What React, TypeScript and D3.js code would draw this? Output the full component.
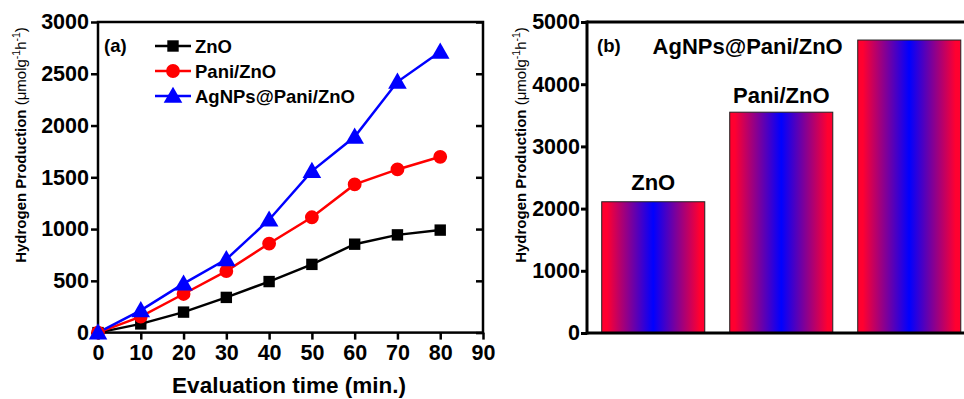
import React, { useRef, useEffect } from 'react';
import * as d3 from 'd3';

// panel (a): hydrogen production vs evaluation time
const times = [0, 10, 20, 30, 40, 50, 60, 70, 80];
const znoValues = [0, 84, 198, 340, 493, 659, 854, 944, 990];
const paniValues = [0, 155, 373, 594, 860, 1114, 1431, 1576, 1698];
const agValues = [0, 215, 473, 708, 1090, 1560, 1891, 2422, 2712];
const seriesNames = ['ZnO', 'Pani/ZnO', 'AgNPs@Pani/ZnO'];
const seriesColors = ['#000000', '#ff0000', '#0000ff'];
const xTicksA = [0, 10, 20, 30, 40, 50, 60, 70, 80, 90];
const yTicksA = [0, 500, 1000, 1500, 2000, 2500, 3000];

// panel (b): hydrogen production rate per catalyst
const barCategories = ['ZnO', 'Pani/ZnO', 'AgNPs@Pani/ZnO'];
const barValues = [2110, 3550, 4710];
const yTicksB = [0, 1000, 2000, 3000, 4000, 5000];

const FONT = '"Liberation Sans", Arial, sans-serif';
const TICK_FONT = 21.5;

function yTitle(g: d3.Selection<SVGGElement, unknown, null, undefined>, x: number, y: number) {
  const t = g
    .append('text')
    .attr('transform', `translate(${x},${y}) rotate(-90)`)
    .attr('text-anchor', 'middle')
    .attr('font-family', FONT)
    .attr('font-size', 15)
    .attr('fill', '#000');
  t.append('tspan').attr('font-weight', 'bold').text('Hydrogen Production ');
  t.append('tspan').text('(\u03bcmolg');
  t.append('tspan').attr('font-size', 10.5).attr('dy', -6).text('-1');
  t.append('tspan').attr('dy', 6).text('h');
  t.append('tspan').attr('font-size', 10.5).attr('dy', -6).text('-1');
  t.append('tspan').attr('dy', 6).text(')');
}

function drawLinePanel(svg: d3.Selection<SVGSVGElement, unknown, null, undefined>) {
  const left = 98;
  const right = 483;
  const top = 22;
  const bottom = 332.6;
  const g = svg.append('g');

  const x = d3.scaleLinear().domain([0, 90]).range([left, right]);
  const y = d3.scaleLinear().domain([0, 3000]).range([bottom, top]);

  // 外框
  g.append('rect')
    .attr('x', left)
    .attr('y', top)
    .attr('width', right - left)
    .attr('height', bottom - top)
    .attr('fill', 'none')
    .attr('stroke', '#000')
    .attr('stroke-width', 2.5);

  // 左侧 y 轴
  const yAxis = g
    .append('g')
    .attr('transform', `translate(${left},0)`)
    .call(d3.axisLeft(y).tickValues(yTicksA).tickSize(7).tickPadding(2).tickFormat(d3.format('d')));
  // 右侧刻度（向内）
  const yAxisR = g
    .append('g')
    .attr('transform', `translate(${right},0)`)
    .call(d3.axisLeft(y).tickValues(yTicksA).tickSize(7).tickFormat(() => ''));
  // x 轴
  const xAxis = g
    .append('g')
    .attr('transform', `translate(0,${bottom})`)
    .call(d3.axisBottom(x).tickValues(xTicksA).tickSize(7).tickPadding(5).tickFormat(d3.format('d')));

  for (const a of [yAxis, yAxisR, xAxis]) {
    a.select('.domain').remove();
    a.selectAll('line').attr('stroke', '#000').attr('stroke-width', 2.5);
    a.selectAll('text')
      .attr('font-family', FONT)
      .attr('font-weight', 'bold')
      .attr('font-size', TICK_FONT)
      .attr('fill', '#000');
  }

  g.append('text')
    .attr('x', 289)
    .attr('y', 393)
    .attr('text-anchor', 'middle')
    .attr('font-family', FONT)
    .attr('font-weight', 'bold')
    .attr('font-size', 22.5)
    .text('Evaluation time (min.)');

  yTitle(g, 26, 145);

  const allValues = [znoValues, paniValues, agValues];
  const line = d3
    .line<number>()
    .x((_, i) => x(times[i]))
    .y((d) => y(d));

  const symbols = [d3.symbolSquare, d3.symbolCircle, d3.symbolTriangle];
  const sizes = [130, 150, 150];

  allValues.forEach((vals, k) => {
    g.append('path')
      .attr('d', line(vals) as string)
      .attr('fill', 'none')
      .attr('stroke', seriesColors[k])
      .attr('stroke-width', 2.5);
  });
  allValues.forEach((vals, k) => {
    const sym = d3.symbol().type(symbols[k]).size(sizes[k]);
    g.selectAll(null)
      .data(vals)
      .enter()
      .append('path')
      .attr('d', sym() as string)
      .attr('transform', (d, i) => `translate(${x(times[i])},${y(d) + (k === 2 ? 1.5 : 0)})`)
      .attr('fill', seriesColors[k]);
  });

  // 图例
  g.append('text')
    .attr('x', 104)
    .attr('y', 52)
    .attr('font-family', FONT)
    .attr('font-weight', 'bold')
    .attr('font-size', 18.5)
    .text('(a)');
  seriesNames.forEach((name, k) => {
    const cy = 46 + k * 25;
    g.append('line')
      .attr('x1', 155)
      .attr('x2', 191)
      .attr('y1', cy)
      .attr('y2', cy)
      .attr('stroke', seriesColors[k])
      .attr('stroke-width', 2.5);
    const sym = d3.symbol().type(symbols[k]).size(sizes[k]);
    g.append('path')
      .attr('d', sym() as string)
      .attr('transform', `translate(173,${cy + (k === 2 ? 1.5 : 0)})`)
      .attr('fill', seriesColors[k]);
    g.append('text')
      .attr('x', 195)
      .attr('y', cy + 6.5)
      .attr('font-family', FONT)
      .attr('font-weight', 'bold')
      .attr('font-size', 18.5)
      .text(name);
  });
}

function drawBarPanel(svg: d3.Selection<SVGSVGElement, unknown, null, undefined>) {
  const left = 587;
  const top = 22;
  const bottom = 333;
  const g = svg.append('g');

  const x = d3
    .scaleBand()
    .domain(barCategories)
    .range([left, 975.5])
    .paddingInner(0.195)
    .paddingOuter(0.115);
  const y = d3.scaleLinear().domain([0, 5000]).range([bottom, top]);

  // 红-蓝-红 横向渐变
  const grad = svg
    .append('defs')
    .append('linearGradient')
    .attr('id', 'barGrad')
    .attr('x1', 0)
    .attr('x2', 1)
    .attr('y1', 0)
    .attr('y2', 0);
  grad.append('stop').attr('offset', 0).attr('stop-color', '#ff0030');
  grad.append('stop').attr('offset', 0.05).attr('stop-color', '#ff0030');
  grad.append('stop').attr('offset', 0.5).attr('stop-color', '#0000ff');
  grad.append('stop').attr('offset', 0.95).attr('stop-color', '#ff0030');
  grad.append('stop').attr('offset', 1).attr('stop-color', '#ff0030');

  g.selectAll(null)
    .data(barValues)
    .enter()
    .append('rect')
    .attr('x', (_, i) => x(barCategories[i]) as number)
    .attr('y', (d) => y(d))
    .attr('width', x.bandwidth())
    .attr('height', (d) => bottom - y(d))
    .attr('fill', 'url(#barGrad)')
    .attr('stroke', '#222')
    .attr('stroke-width', 1);

  // 框线
  g.append('line')
    .attr('x1', left)
    .attr('x2', 964)
    .attr('y1', top)
    .attr('y2', top)
    .attr('stroke', '#000')
    .attr('stroke-width', 3);
  g.append('line')
    .attr('x1', left)
    .attr('x2', 964)
    .attr('y1', bottom)
    .attr('y2', bottom)
    .attr('stroke', '#000')
    .attr('stroke-width', 3);
  g.append('line')
    .attr('x1', left)
    .attr('x2', left)
    .attr('y1', top - 1.5)
    .attr('y2', bottom + 1.5)
    .attr('stroke', '#000')
    .attr('stroke-width', 3);

  const yAxis = g
    .append('g')
    .attr('transform', `translate(${left},0)`)
    .call(d3.axisLeft(y).tickValues(yTicksB).tickSize(6).tickPadding(1).tickFormat(d3.format('d')));
  yAxis.select('.domain').remove();
  yAxis.selectAll('line').attr('stroke', '#000').attr('stroke-width', 3);
  yAxis
    .selectAll('text')
    .attr('font-family', FONT)
    .attr('font-weight', 'bold')
    .attr('font-size', TICK_FONT)
    .attr('fill', '#000');

  yTitle(g, 526, 145);

  g.append('text')
    .attr('x', 597)
    .attr('y', 52)
    .attr('font-family', FONT)
    .attr('font-weight', 'bold')
    .attr('font-size', 18.5)
    .text('(b)');

  // 柱子标签
  const labelX = [
    (x(barCategories[0]) as number) + x.bandwidth() / 2,
    (x(barCategories[1]) as number) + x.bandwidth() / 2,
    (x(barCategories[2]) as number) - 15
  ];
  const labelY = [y(barValues[0]) - 12, y(barValues[1]) - 9, y(barValues[2]) + 14];
  const anchors = ['middle', 'middle', 'end'];
  barCategories.forEach((name, i) => {
    g.append('text')
      .attr('x', labelX[i])
      .attr('y', labelY[i])
      .attr('text-anchor', anchors[i])
      .attr('font-family', FONT)
      .attr('font-weight', 'bold')
      .attr('font-size', 22)
      .text(name);
  });
}

export default function App(): JSX.Element {
  const ref = useRef<SVGSVGElement>(null);

  useEffect(() => {
    const el = ref.current;
    if (el == null) {
      return;
    }
    const svg = d3.select(el);
    svg.selectAll('*').remove();
    drawLinePanel(svg);
    drawBarPanel(svg);
  }, []);

  return (
    <svg
      ref={ref}
      width={964}
      height={399}
      style={{ position: 'absolute', left: 0, top: 0, background: '#fff' }}
    />
  );
}
